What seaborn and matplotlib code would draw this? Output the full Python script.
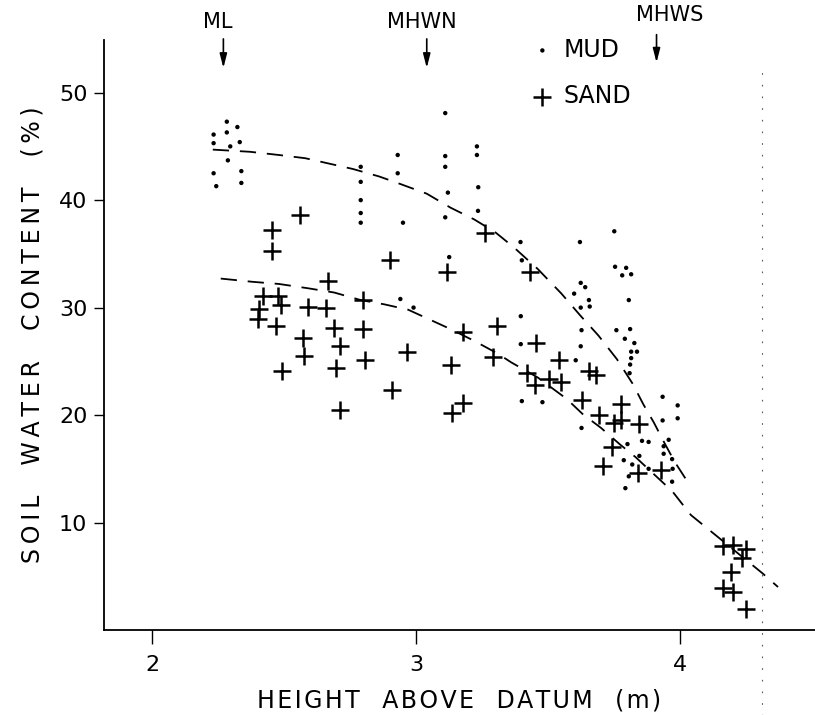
import numpy as np
import pandas as pd
import matplotlib
matplotlib.use("Agg")
import matplotlib.pyplot as plt
import seaborn as sns

# ---- data ----
mud_x = [2.233, 2.283, 2.323, 2.283, 2.233, 2.296, 2.332, 2.287, 2.233, 2.338, 2.243, 2.338,
         2.79, 2.79, 2.79, 2.79, 2.79,
         2.93, 2.93, 2.95, 2.94, 2.99,
         3.11, 3.11, 3.11, 3.12, 3.11, 3.125,
         3.23, 3.23, 3.235, 3.234,
         3.395, 3.40, 3.396, 3.396, 3.40, 3.478,
         3.62, 3.623, 3.64, 3.598, 3.654, 3.623, 3.657, 3.626, 3.623, 3.604, 3.626,
         3.75, 3.753, 3.795, 3.78, 3.814, 3.805, 3.758, 3.81, 3.79, 3.826, 3.814, 3.836,
         3.814, 3.81, 3.808,
         3.933, 3.99, 3.99, 3.933, 3.855, 3.88, 3.80, 3.956, 3.937, 3.937, 3.969, 3.786,
         3.818, 3.845, 3.88, 3.971, 3.805, 3.969, 3.792]
mud_y = [46.1, 47.3, 46.8, 46.3, 45.3, 45.0, 45.4, 43.7, 42.5, 42.7, 41.3, 41.6,
         43.1, 41.7, 40.0, 38.8, 37.9,
         44.2, 42.5, 37.9, 30.8, 30.0,
         48.1, 44.1, 43.1, 40.7, 38.4, 34.7,
         45.0, 44.2, 41.2, 39.0,
         36.1, 34.4, 29.2, 26.6, 21.3, 21.2,
         36.1, 32.3, 31.9, 31.3, 30.7, 30.0, 30.1, 27.9, 26.4, 25.1, 18.8,
         37.1, 33.8, 33.7, 33.0, 33.1, 30.7, 27.9, 28.0, 27.1, 26.7, 25.9, 25.9,
         25.3, 24.7, 23.9,
         21.7, 20.9, 19.7, 19.5, 17.6, 17.5, 17.3, 17.7, 17.1, 16.4, 15.9, 15.8,
         15.4, 16.2, 15.0, 15.0, 14.3, 13.8, 13.2]

sand_x = [2.56, 2.455, 2.454, 2.90, 3.26, 3.116, 3.43,
          2.667, 2.42, 2.478, 2.49, 2.406, 2.40, 2.469, 2.589, 2.66, 2.799, 2.689, 2.799,
          2.57, 2.713, 2.574, 2.806, 2.966, 2.493, 2.698, 2.909, 2.713,
          3.176, 3.306, 3.13, 3.29, 3.455, 3.541, 3.418, 3.45, 3.503, 3.547, 3.654, 3.68,
          3.176, 3.136, 3.626, 3.694, 3.774, 3.75, 3.774, 3.843, 3.742, 3.707, 3.839, 3.928,
          4.16, 4.20, 4.247, 4.233, 4.192, 4.163, 4.20, 4.25]
sand_y = [38.6, 37.2, 35.3, 34.4, 36.9, 33.3, 33.3,
          32.5, 31.1, 31.1, 30.2, 29.9, 28.9, 28.3, 30.1, 30.0, 30.7, 28.1, 28.0,
          27.2, 26.4, 25.5, 25.1, 25.9, 24.1, 24.4, 22.3, 20.5,
          27.7, 28.3, 24.7, 25.4, 26.7, 25.1, 23.9, 22.8, 23.4, 23.1, 24.1, 23.7,
          21.1, 20.2, 21.4, 20.0, 21.0, 19.3, 19.5, 19.2, 17.0, 15.3, 14.6, 14.9,
          7.8, 7.9, 7.5, 6.7, 5.4, 3.9, 3.5, 2.0]

mud_curve_x = [2.23, 2.37, 2.48, 2.58, 2.67, 2.76, 2.86, 2.94, 3.04, 3.13, 3.22, 3.30,
               3.37, 3.46, 3.55, 3.62, 3.69, 3.76, 3.82, 3.86, 3.90, 3.94, 3.98, 4.03]
mud_curve_y = [44.7, 44.5, 44.2, 43.9, 43.4, 42.9, 42.2, 41.5, 40.6, 39.3, 38.2, 37.0,
               35.6, 33.6, 31.3, 29.3, 27.4, 25.2, 22.9, 21.0, 19.3, 17.4, 15.6, 13.7]
sand_curve_x = [2.26, 2.38, 2.48, 2.59, 2.69, 2.79, 2.88, 2.97, 3.05, 3.13, 3.22, 3.31,
                3.36, 3.46, 3.57, 3.63, 3.70, 3.77, 3.83, 3.90, 3.97, 4.04, 4.13, 4.23,
                4.31, 4.37]
sand_curve_y = [32.7, 32.4, 32.2, 31.8, 31.4, 30.7, 30.3, 29.8, 28.9, 28.0, 26.9, 25.7,
                24.9, 23.5, 21.5, 20.1, 18.8, 17.3, 16.1, 14.5, 12.9, 10.7, 8.9, 6.9,
                5.3, 4.0]

x_ticks = [2, 3, 4]
y_ticks = [10, 20, 30, 40, 50]
level_names = ["ML", "MHWN", "MHWS"]
level_x = [2.27, 3.04, 3.91]


def spaced(words, letter_gap="\u2009", word_gap="   "):
    return word_gap.join(letter_gap.join(w) for w in words)


# ---- figure ----
sns.set_theme(style="white")
plt.rcParams["font.family"] = ["DejaVu Sans"]

fig = plt.figure(figsize=(8.15, 7.15), dpi=100)
ax = fig.add_axes([104 / 815, 1 - 630 / 715, 1 - 104 / 815, (630 - 40) / 715])

mud_df = pd.DataFrame({"x": mud_x, "y": mud_y})
sand_df = pd.DataFrame({"x": sand_x, "y": sand_y})

sns.scatterplot(data=mud_df, x="x", y="y", ax=ax, marker="o", s=10, color="black",
                edgecolor="none", label="MUD", zorder=3)
sns.scatterplot(data=sand_df, x="x", y="y", ax=ax, marker="+", s=165, color="black",
                linewidth=1.8, label="SAND", zorder=3)

mc = pd.DataFrame({"x": mud_curve_x, "y": mud_curve_y})
sc = pd.DataFrame({"x": sand_curve_x, "y": sand_curve_y})
sns.lineplot(data=mc, x="x", y="y", ax=ax, sort=False, color="black", lw=1.3,
             dashes=False, zorder=2)
sns.lineplot(data=sc, x="x", y="y", ax=ax, sort=False, color="black", lw=1.3,
             dashes=False, zorder=2)
for ln in ax.get_lines():
    ln.set_dashes((9, 6))

ax.set_xlim(1.818, 4.51)
ax.set_ylim(0, 54.9)

ax.set_xticks(x_ticks)
ax.set_xticklabels([str(t) for t in x_ticks])
ax.set_yticks(y_ticks)
ax.set_yticklabels([str(t) for t in y_ticks])

for s in ["top", "right"]:
    ax.spines[s].set_visible(False)
for s in ["left", "bottom"]:
    ax.spines[s].set_color("black")
    ax.spines[s].set_linewidth(1.3)

ax.tick_params(axis="x", direction="out", length=10, width=1.0, pad=8,
               labelsize=16, colors="black", bottom=True)
ax.tick_params(axis="y", direction="out", length=7, width=1.0, pad=5,
               labelsize=16, colors="black", left=True)

ax.set_xlabel(spaced(["HEIGHT", "ABOVE", "DATUM", "(m)"], letter_gap="\u200a"),
              fontsize=17, labelpad=10, color="black")
ax.set_ylabel(spaced(["SOIL", "WATER", "CONTENT", "(%)"], word_gap="    "),
              fontsize=17, labelpad=10, color="black")

# dotted vertical reference line at the right
ax.axvline(4.31, ymin=-0.15, ymax=0.96, clip_on=False, color="0.35", lw=0.8,
           ls=(0, (1.5, 9)))

# tide level arrows
text_y = [56.6, 56.6, 57.2]
arrow_top = [55.0, 55.0, 55.4]
arrow_bot = [52.3, 52.3, 52.8]
text_x = [2.25, 3.02, 3.96]
for name, lx, tx, ty, at, ab in zip(level_names, level_x, text_x, text_y, arrow_top, arrow_bot):
    ax.annotate("", xy=(lx, ab), xytext=(lx, at), clip_on=False, annotation_clip=False,
                arrowprops=dict(arrowstyle="-|>,head_length=0.7,head_width=0.18",
                                color="black", lw=1.2, shrinkA=0, shrinkB=0))
    ax.text(tx, ty, name, ha="center", va="center", fontsize=15, color="black",
            clip_on=False)

leg = ax.legend(loc="upper left", bbox_to_anchor=(0.58, 1.032), frameon=False,
                fontsize=17, handlelength=0.8, handletextpad=0.5, labelspacing=0.95,
                borderpad=0.2)
for t in leg.get_texts():
    t.set_color("black")

fig.savefig("out.png", dpi=100, facecolor="white")
